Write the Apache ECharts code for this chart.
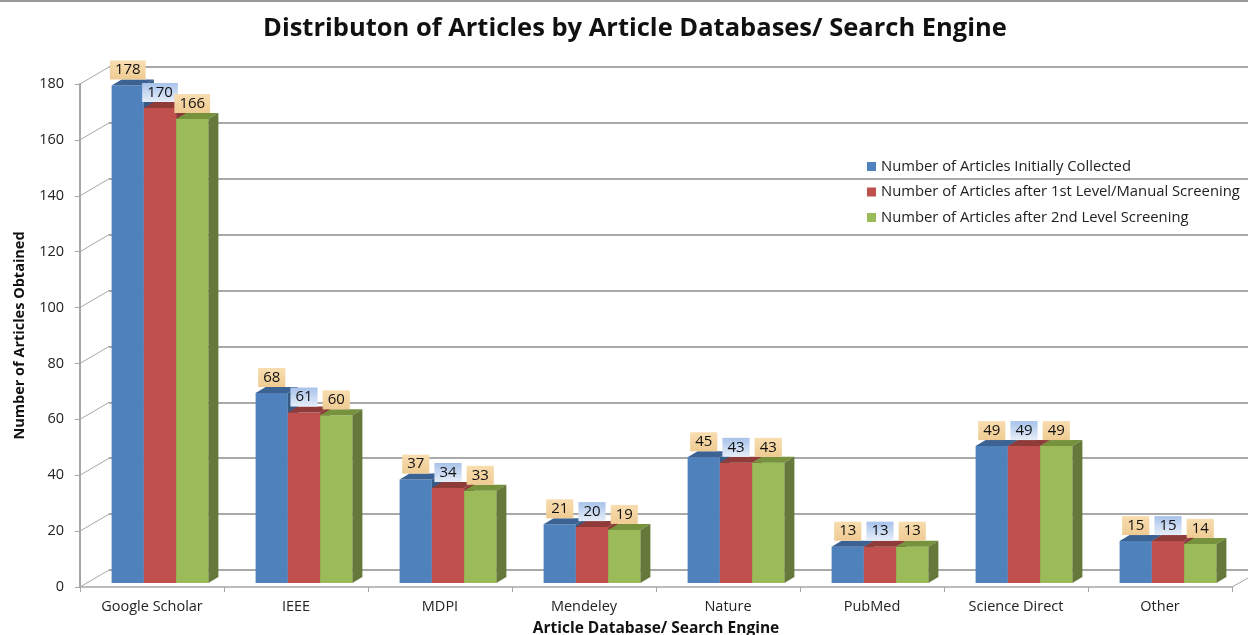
<!DOCTYPE html>
<html>
<head>
<meta charset="utf-8">
<script src="https://cdn.jsdelivr.net/npm/echarts@6/dist/echarts.min.js"></script>
<style>
  html, body { margin: 0; padding: 0; background: #fff; }
  #chart { width: 1248px; height: 635px; }
</style>
</head>
<body>
<div id="chart"></div>
<script>
// data
const categories = ['Google Scholar', 'IEEE', 'MDPI', 'Mendeley', 'Nature', 'PubMed', 'Science Direct', 'Other'];
const seriesNames = [
  'Number of Articles Initially Collected',
  'Number of Articles after 1st Level/Manual Screening',
  'Number of Articles after 2nd Level Screening'
];
const initial = [178, 68, 37, 21, 45, 13, 49, 15];
const afterFirst = [170, 61, 34, 20, 43, 13, 49, 15];
const afterSecond = [166, 60, 33, 19, 43, 13, 49, 14];
const yTicks = [0, 20, 40, 60, 80, 100, 120, 140, 160, 180];

const FONT = 'Open Sans';
// fake 3d settings
const OX = 8, OY = -4;      // bar offset into the floor
const DX = 10, DY = 6;      // bar depth
const WALL_DX = 29, WALL_DY = -17;

const faces = [
  { front: '#4F81BD', top: '#3B6293', side: '#375B87' },
  { front: '#C0504D', top: '#8E3B39', side: '#8A3836' },
  { front: '#9BBB59', top: '#76923C', side: '#66783A' }
];
const tan = new echarts.graphic.LinearGradient(0, 0, 0, 1, [
  { offset: 0, color: '#F8DDB0' }, { offset: 1, color: '#EFCB92' }
]);
const lightBlue = new echarts.graphic.LinearGradient(0, 0, 0, 1, [
  { offset: 0, color: '#A8C2EA' }, { offset: 1, color: '#E6EEF9' }
]);
const labelBg = [tan, lightBlue, tan];

function barRender(s) {
  return function (params, api) {
    const i = api.value(0), v = api.value(1);
    const band = api.size([1, 0])[0];
    const w = band * 0.224;
    const c = api.coord([i, v]);
    const b = api.coord([i, 0]);
    const x0 = c[0] - 1.5 * w + s * w + OX;
    const yt = c[1] + OY, yb = b[1] + OY;
    const f = faces[s];
    return {
      type: 'group',
      children: [
        { type: 'rect', shape: { x: x0, y: yt, width: w, height: yb - yt }, style: { fill: f.front } },
        { type: 'polygon', shape: { points: [[x0, yt], [x0 + w, yt], [x0 + w + DX, yt - DY], [x0 + DX, yt - DY]] }, style: { fill: f.top } },
        { type: 'polygon', shape: { points: [[x0 + w, yt], [x0 + w + DX, yt - DY], [x0 + w + DX, yb - DY], [x0 + w, yb]] }, style: { fill: f.side } },
        {
          type: 'text', z2: 10,
          style: {
            x: x0 + w / 2, y: yt - DY, text: String(v),
            align: 'center', verticalAlign: 'bottom',
            font: '15px "' + FONT + '"', fill: '#111',
            backgroundColor: labelBg[s], padding: [2, 5, 2, 5]
          }
        }
      ]
    };
  };
}

function toData(arr) {
  return arr.map((v, i) => [i, v]);
}

const chart = echarts.init(document.getElementById('chart'));
const option = {
  animation: false,
  textStyle: { fontFamily: FONT },
  title: {
    text: 'Distributon of Articles by Article Databases/ Search Engine',
    left: 258, top: 11,
    textStyle: { fontSize: 25.5, fontWeight: 'bold', color: '#111', fontFamily: FONT }
  },
  legend: {
    orient: 'vertical', left: 862, top: 154,
    icon: 'rect', itemWidth: 9, itemHeight: 9, itemGap: 10.5,
    textStyle: { fontSize: 14.8, color: '#222', fontFamily: FONT },
    data: seriesNames
  },
  graphic: [
    { type: 'rect', shape: { x: 0, y: 0, width: 1248, height: 2 }, style: { fill: '#999' } }
  ],
  grid: [
    { left: 80, right: 16, top: 84, bottom: 48, outerBoundsMode: 'none' },
    { left: 109, right: 0, top: 67, bottom: 65, outerBoundsMode: 'none' }
  ],
  xAxis: [
    {
      type: 'category', gridIndex: 0, data: categories,
      axisLine: { lineStyle: { color: '#a6a6a6', width: 1.5 } },
      axisTick: { show: true, length: 5, lineStyle: { color: '#a6a6a6' } },
      axisLabel: { fontSize: 14.5, color: '#222', margin: 12 },
      name: 'Article Database/ Search Engine', nameLocation: 'middle', nameGap: 34,
      nameTextStyle: { fontSize: 15.5, fontWeight: 'bold', color: '#111' }
    },
    { type: 'category', gridIndex: 1, data: categories, show: false }
  ],
  yAxis: [
    {
      type: 'value', gridIndex: 0, min: 0, max: 180, interval: 20,
      axisLine: { show: true, lineStyle: { color: '#a6a6a6', width: 2 } },
      axisTick: { show: true, length: 5, lineStyle: { color: '#a6a6a6' } },
      axisLabel: { fontSize: 14.5, color: '#222', margin: 16 },
      splitLine: { show: false },
      name: 'Number of Articles Obtained', nameLocation: 'middle', nameGap: 53,
      nameTextStyle: { fontSize: 14.5, fontWeight: 'bold', color: '#111' }
    },
    {
      type: 'value', gridIndex: 1, min: 0, max: 180, interval: 20,
      axisLine: { show: false }, axisTick: { show: false }, axisLabel: { show: false },
      splitLine: { show: true, lineStyle: { color: '#8c8c8c', width: 1.5 } }
    }
  ],
  series: [
    {
      // wall diagonals from the front axis to the back wall
      type: 'custom', xAxisIndex: 0, yAxisIndex: 0, silent: true,
      data: yTicks.map(t => [0, t]),
      renderItem: function (params, api) {
        const cs = params.coordSys;
        const y = api.coord([0, api.value(1)])[1];
        const kids = [{
          type: 'line',
          shape: { x1: cs.x, y1: y, x2: cs.x + WALL_DX, y2: y + WALL_DY },
          style: { stroke: '#a6a6a6', lineWidth: 1 }
        }];
        if (api.value(1) === 0) {
          kids.push({
            type: 'line',
            shape: { x1: cs.x + cs.width, y1: y, x2: cs.x + cs.width + 16, y2: y - 9 },
            style: { stroke: '#a6a6a6', lineWidth: 1 }
          });
        }
        return { type: 'group', children: kids };
      }
    },
    {
      name: seriesNames[0], type: 'custom', xAxisIndex: 0, yAxisIndex: 0,
      itemStyle: { color: faces[0].front }, data: toData(initial), renderItem: barRender(0), z: 3
    },
    {
      name: seriesNames[1], type: 'custom', xAxisIndex: 0, yAxisIndex: 0,
      itemStyle: { color: faces[1].front }, data: toData(afterFirst), renderItem: barRender(1), z: 4
    },
    {
      name: seriesNames[2], type: 'custom', xAxisIndex: 0, yAxisIndex: 0,
      itemStyle: { color: faces[2].front }, data: toData(afterSecond), renderItem: barRender(2), z: 5
    }
  ]
};
chart.setOption(option);
</script>
</body>
</html>
